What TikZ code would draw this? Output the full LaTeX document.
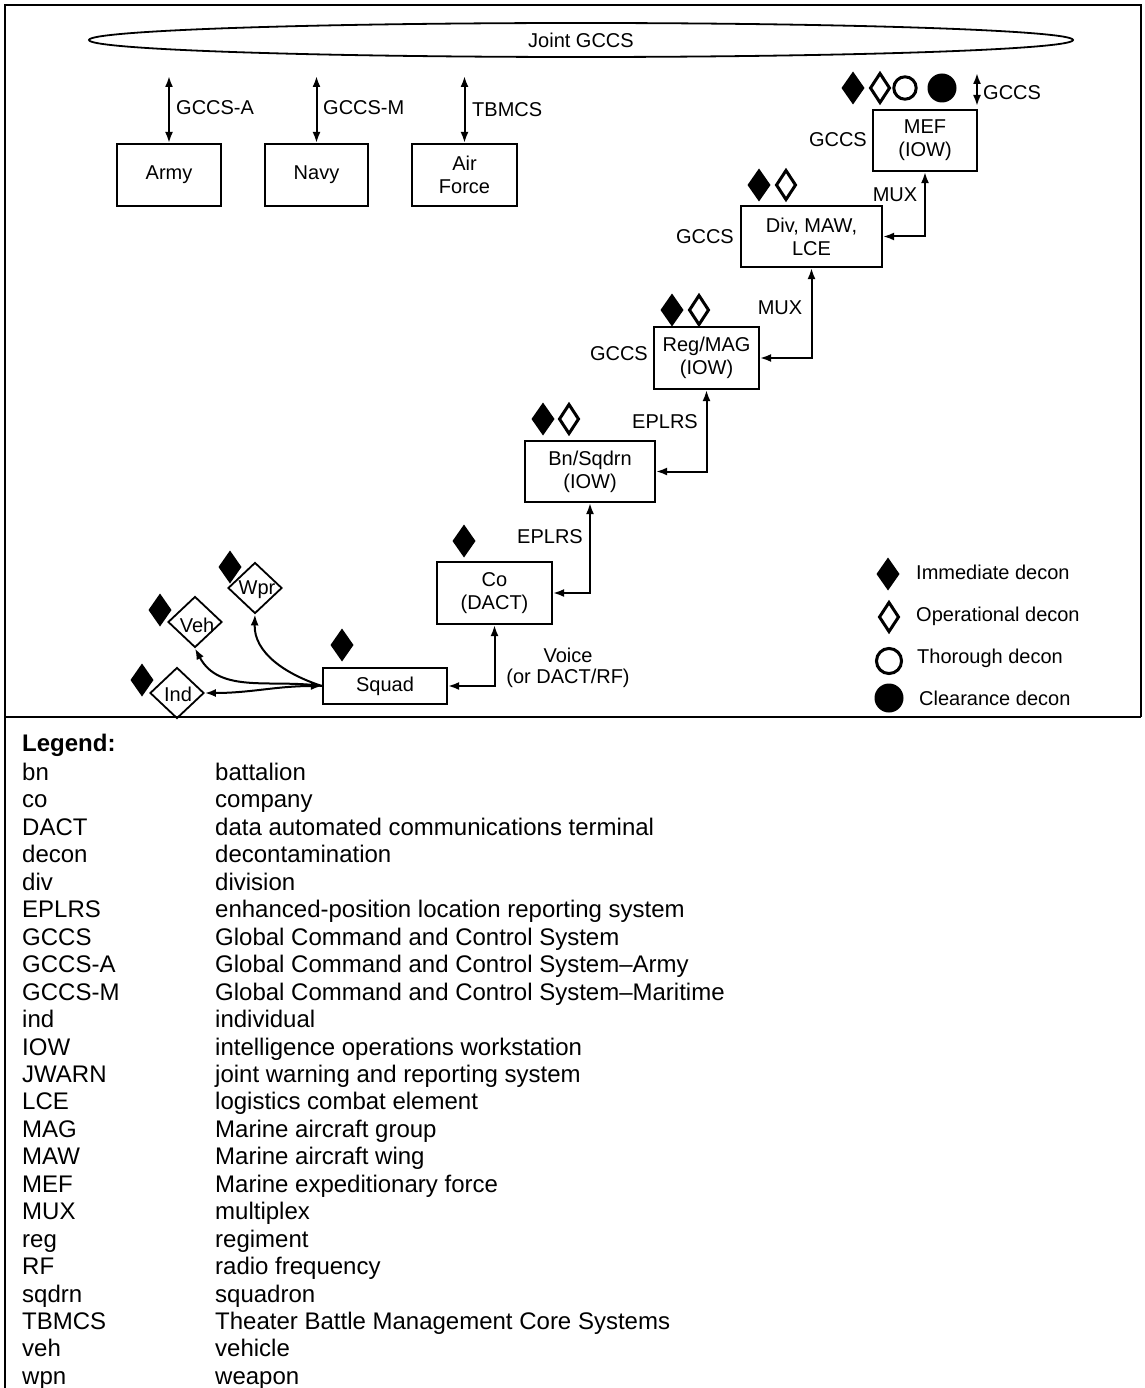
\documentclass[tikz,border=0pt]{standalone}
\usepackage{fontspec}
\setmainfont{Liberation Sans}
\usetikzlibrary{arrows.meta,shapes.geometric}
\tikzset{
  fdia/.pic={\fill (0,-16.5) -- (11.5,0) -- (0,16.5) -- (-11.5,0) -- cycle;},
  odia/.pic={\draw[line width=3pt,line join=miter] (0,-14.5) -- (9.5,0) -- (0,14.5) -- (-9.5,0) -- cycle;},
  ocirc/.pic={\draw[line width=3pt] (0,0) circle[radius=11.2];},
  fcirc/.pic={\fill (0,0) circle[radius=14.5];}
}
\begin{document}
\begin{tikzpicture}[x=1pt,y=-1pt,
  every node/.style={font=\fontsize{20}{23}\selectfont, inner sep=0pt, text=black},
  box/.style={draw, line width=2.2pt, align=center, minimum height=62pt},
  tipA/.tip={Latex[length=11pt,width=8pt]},
  conn/.style={line width=2pt, tipA-tipA},
  connL/.style={line width=2pt, tipA-},
  ddia/.style={draw, diamond, line width=1.8pt, minimum width=54pt, minimum height=51pt},
  legfont/.style={font=\fontsize{24}{27}\selectfont}
]
\useasboundingbox (0,0) rectangle (1144,1388);
\fill[white] (0,0) rectangle (1144,1388);

% frame
\draw[line width=2.7pt] (5,1388) -- (5,5) -- (1141,5) -- (1141,717);
\draw[line width=2.7pt] (5,717) -- (1141,717);

% Joint GCCS
\node[draw, ellipse, line width=1.8pt, minimum width=984pt, minimum height=34pt] (joint) at (581,40) {Joint GCCS};

% service boxes
\node[box, minimum width=104pt] (army) at (169,175) {Army};
\node[box, minimum width=103pt] (navy) at (316.5,175) {Navy};
\node[box, minimum width=105pt] (af) at (464.5,175) {Air\\Force};
\coordinate (armytop) at (169,76);
\coordinate (navytop) at (316.5,76);
\coordinate (aftop) at (464.5,76);
\draw[conn] (armytop) -- (army.north);
\draw[conn] (navytop) -- (navy.north);
\draw[conn] (aftop) -- (af.north);
\node[anchor=west] (lga) at (176,108) {GCCS-A};
\node[anchor=west] (lgm) at (323,108) {GCCS-M};
\node[anchor=west] (lgt) at (472,110) {TBMCS};

% chain
\node[box, minimum width=104pt, minimum height=61pt] (mef) at (925,140.5) {MEF\\(IOW)};
\node[box, minimum width=141pt, minimum height=61pt] (div) at (811.5,236.5) {Div, MAW,\\LCE};
\node[box, minimum width=105pt] (reg) at (706.5,358) {Reg/MAG\\(IOW)};
\node[box, minimum width=130pt, minimum height=61pt] (bn) at (590,471.5) {Bn/Sqdrn\\(IOW)};
\node[box, minimum width=115pt] (co) at (494.5,593) {Co\\(DACT)};
\node[box, minimum width=124pt, minimum height=36pt] (squad) at (385,686) {Squad};

\draw[conn] (div.east) -| (mef.south);
\draw[conn] (reg.east) -| (div.south);
\draw[conn] (bn.east) -| (reg.south);
\draw[conn] (co.east) -| (bn.south);
\draw[conn] (squad.east) -| (co.south);

\coordinate (gtop) at (977,73);
\coordinate (gbot) at (977,106);
\draw[conn] (gtop) -- (gbot);
\node[anchor=west] (gmef) at (983,93) {GCCS};

\node (mux1) at (895,195) {MUX};
\node[anchor=east] (g1) at (867,140) {GCCS};
\node[anchor=east] (g2) at (734,237) {GCCS};
\node (mux2) at (780,308) {MUX};
\node[anchor=east] (g3) at (648,354) {GCCS};
\node (ep1) at (665,422) {EPLRS};
\node (ep2) at (550,537) {EPLRS};
\node[align=center, font=\fontsize{20}{21}\selectfont] (voice) at (568,668) {Voice\\(or DACT/RF)};

% decon symbols
\pic at (853,88) {fdia};
\pic at (880,88) {odia};
\pic at (905,88) {ocirc};
\pic at (942,88) {fcirc};
\pic at (759,185) {fdia};
\pic at (786,185) {odia};
\pic at (672,310) {fdia};
\pic at (699,310) {odia};
\pic at (543,419) {fdia};
\pic at (569,419) {odia};
\pic at (464,541) {fdia};
\pic at (342,645) {fdia};
\pic at (142,680) {fdia};
\pic at (160,610) {fdia};
\pic at (230,567) {fdia};

% squad items
\node[ddia] (ind) at (177,693) {};
\node[ddia] (veh) at (195,622) {};
\node[ddia] (wpr) at (255,588) {};
\node (indt) at (178,694) {Ind};
\node (veht) at (197,625) {Veh};
\node (wprt) at (257,590) {Wpr};
\draw[conn] (ind.east) to[out=0, in=180] (squad.west);
\draw[connL] (veh.south) to[out=-62, in=172] (squad.west);
\draw[connL] (wpr.south) to[out=-92, in=162] (squad.west);

% decon legend
\pic at (888,574) {fdia};
\pic at (889,617) {odia};
\pic[scale=1.12] at (889,661) {ocirc};
\pic at (889,698) {fcirc};
\node[anchor=west] (l1) at (916,572) {Immediate decon};
\node[anchor=west] (l2) at (916,616) {Operational decon};
\node[anchor=west] (l3) at (917,658) {Thorough decon};
\node[anchor=west] (l4) at (919,698) {Clearance decon};

% text legend
\node[anchor=base west, legfont, font=\bfseries\fontsize{24}{27}\selectfont] (legend) at (22,751.5) {Legend:};
\foreach [count=\i] \a/\b in {bn/battalion, co/company, DACT/data automated communications terminal, decon/decontamination, div/division, EPLRS/enhanced-position location reporting system, GCCS/Global Command and Control System, GCCS-A/Global Command and Control System–Army, GCCS-M/Global Command and Control System–Maritime, ind/individual, IOW/intelligence operations workstation, JWARN/joint warning and reporting system, LCE/logistics combat element, MAG/Marine aircraft group, MAW/Marine aircraft wing, MEF/Marine expeditionary force, MUX/multiplex, reg/regiment, RF/radio frequency, sqdrn/squadron, TBMCS/Theater Battle Management Core Systems, veh/vehicle, wpn/weapon} {
  \node[anchor=base west, legfont] (abbr\i) at (22,{780.5+27.45*(\i-1)}) {\a};
  \node[anchor=base west, legfont] (desc\i) at (215,{780.5+27.45*(\i-1)}) {\b};
}
\end{tikzpicture}
\end{document}
